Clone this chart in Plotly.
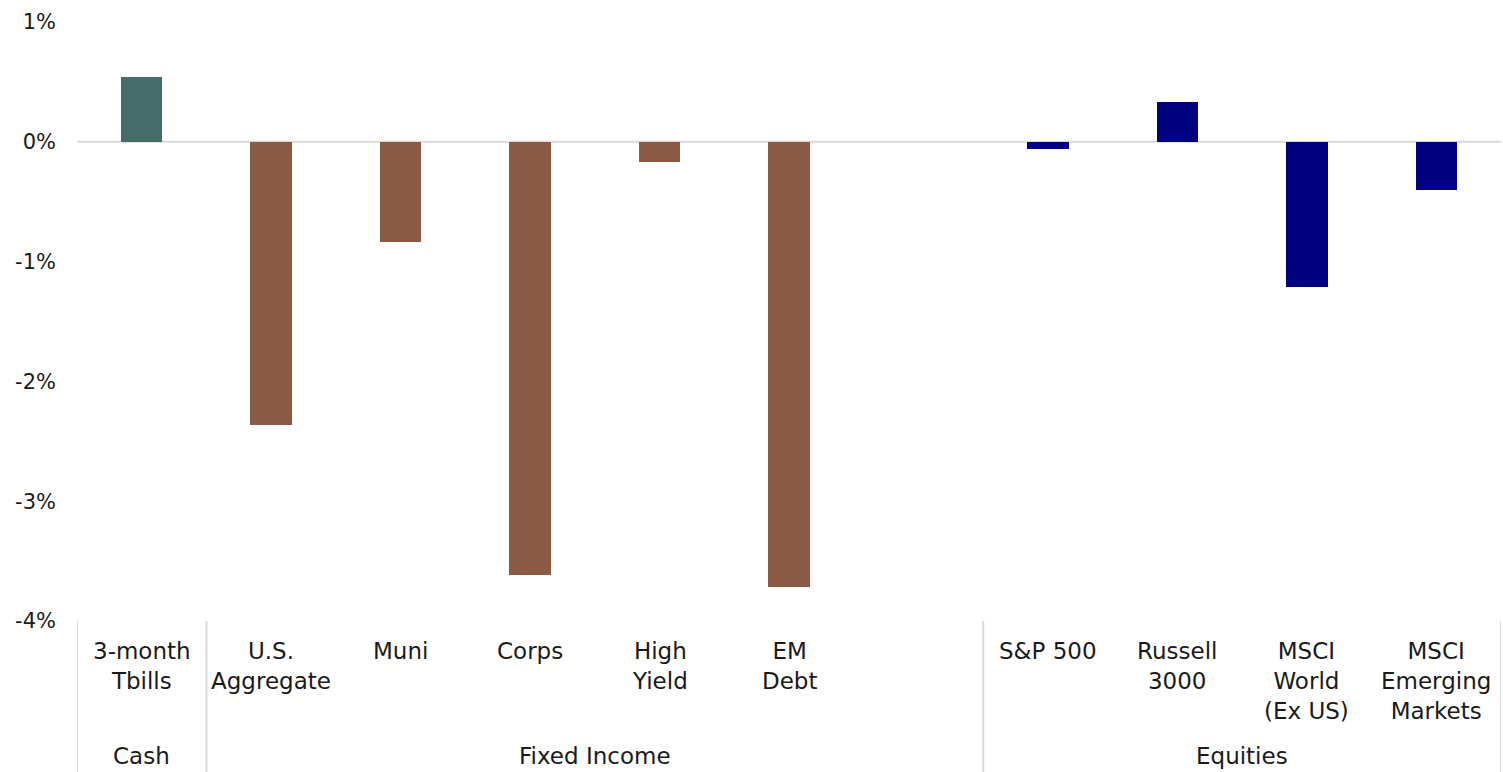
import plotly.graph_objects as go

# Asset-class returns (%)
categories = ["3-month<br>Tbills", "U.S.<br>Aggregate", "Muni", "Corps", "High<br>Yield",
              "EM<br>Debt", "", "S&P 500", "Russell<br>3000", "MSCI<br>World<br>(Ex US)",
              "MSCI<br>Emerging<br>Markets"]
returns = [0.545, -2.36, -0.84, -3.62, -0.17, -3.72, None, -0.058, 0.33, -1.21, -0.40]
sectors = ["Cash", "Fixed Income", "Fixed Income", "Fixed Income", "Fixed Income",
           "Fixed Income", "Fixed Income", "Equities", "Equities", "Equities", "Equities"]
sector_colors = {"Cash": "#476B6B", "Fixed Income": "#8B5A44", "Equities": "#000080"}

# Group headings: (label, first index, last index)
groups = [("Cash", 0, 0), ("Fixed Income", 1, 6), ("Equities", 7, 10)]

y_ticks = [1, 0, -1, -2, -3, -4]
y_tick_text = ["1%", "0%", "-1%", "-2%", "-3%", "-4%"]

W, H = 1503, 772
M_L, M_R, M_T, M_B = 77, 2, 22, 151
plot_h = H - M_T - M_B

def paper_y(px):
    """Convert a page pixel row (below the plot) to paper coordinates."""
    return (H - M_B - px) / plot_h

FONT = "DejaVu Sans"
TXT = "#1a1a1a"

x_idx = list(range(len(categories)))
fig = go.Figure()
fig.add_trace(go.Bar(
    x=x_idx, y=returns,
    marker=dict(color=[sector_colors[s] for s in sectors], line=dict(width=0)),
    width=0.32, showlegend=False, hoverinfo="skip",
))

# zero line
fig.add_shape(type="line", xref="paper", yref="y", x0=0, x1=1, y0=0, y1=0,
              line=dict(color="#d9d9d9", width=2), layer="below")

annotations = []
for i, lab in enumerate(categories):
    if lab:
        annotations.append(dict(x=i, xref="x", y=paper_y(636), yref="paper", text=lab,
                                showarrow=False, yanchor="top", xanchor="center",
                                font=dict(family=FONT, size=23, color=TXT)))

shapes_x = set()
for name, a, b in groups:
    annotations.append(dict(x=(a + b) / 2, xref="x", y=paper_y(756), yref="paper", text=name,
                            showarrow=False, yanchor="middle", xanchor="center",
                            font=dict(family=FONT, size=23, color=TXT)))
    shapes_x.add(a - 0.5)
    shapes_x.add(b + 0.5)

for xv in sorted(shapes_x):
    fig.add_shape(type="line", xref="x", yref="paper", x0=xv, x1=xv,
                  y0=0, y1=paper_y(H), line=dict(color="#d9d9d9", width=2))

fig.update_layout(
    width=W, height=H,
    margin=dict(l=M_L, r=M_R, t=M_T, b=M_B),
    paper_bgcolor="white", plot_bgcolor="white",
    annotations=annotations,
    xaxis=dict(range=[-0.5, len(categories) - 0.5], showticklabels=False, showgrid=False,
               zeroline=False, showline=False, ticks=""),
    yaxis=dict(range=[-4, 1], tickvals=y_ticks, ticktext=y_tick_text, showgrid=False,
               zeroline=False, showline=False, ticks="", ticklabelstandoff=20,
               tickfont=dict(family=FONT, size=21, color=TXT)),
    bargap=0,
)

fig.write_html("out.html", config={"displayModeBar": False})
